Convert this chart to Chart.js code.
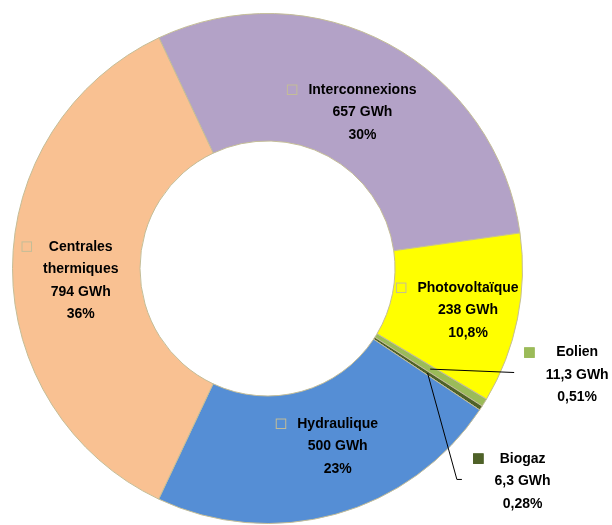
<!DOCTYPE html>
<html lang="fr">
<head>
<meta charset="utf-8">
<title>Production d'électricité par source</title>
<script src="https://cdn.jsdelivr.net/npm/chart.js@4.4.1/dist/chart.umd.min.js"></script>
<style>
  html, body { margin: 0; padding: 0; background: #ffffff; }
  #wrap { width: 612px; height: 525px; }
</style>
</head>
<body>
<div id="wrap"><canvas id="c" width="612" height="525"></canvas></div>
<script>
// Energy mix: one slice per source, clockwise from the top-left
const categories = ['Interconnexions', 'Photovoltaïque', 'Eolien', 'Biogaz', 'Hydraulique', 'Centrales thermiques'];
const labelLines = [['Interconnexions'], ['Photovoltaïque'], ['Eolien'], ['Biogaz'], ['Hydraulique'], ['Centrales', 'thermiques']];
const valuesGWh = [657, 238, 11.3, 6.3, 500, 794];
const percentLabels = ['30%', '10,8%', '0,51%', '0,28%', '23%', '36%'];

const sliceColors = ['#B3A2C7', '#FFFF00', '#9BBB59', '#4F6228', '#558ED5', '#F9C192'];
const edgeColor = '#C4BD97';

// Label anchors, relative to the centre point of each slice
const labelNudge = [[4, 12], [13, 4], [147, 6], [95, 108], [19, -6.5], [4.5, 12]];
// Leader lines for the slices too thin to hold their label (points relative to slice centre)
const leaders = { 2: [[84, 3.4]], 3: [[29.3, 106.3], [34.3, 106.3]] };
// Keys whose swatch sits outside the ring
const outsideLabels = new Set([2, 3]);

const fmtGWh = v => String(v).replace('.', ',') + ' GWh';

const sliceLabels = {
  id: 'sliceLabels',
  afterDraw(chart) {
    const ctx = chart.ctx;
    const meta = chart.getDatasetMeta(0);
    const lineH = 22.5;
    const sq = 10.5;
    ctx.save();
    ctx.font = 'bold 14px "Liberation Sans", Arial, sans-serif';
    ctx.textAlign = 'center';
    ctx.textBaseline = 'middle';
    meta.data.forEach((arc, i) => {
      const c = arc.getCenterPoint();
      // leader line
      if (leaders[i]) {
        ctx.beginPath();
        ctx.strokeStyle = '#000000';
        ctx.lineWidth = 1;
        ctx.moveTo(c.x, c.y);
        leaders[i].forEach(p => ctx.lineTo(c.x + p[0], c.y + p[1]));
        ctx.stroke();
      }
      const lines = [...labelLines[i], fmtGWh(valuesGWh[i]), percentLabels[i]];
      const ax = c.x + labelNudge[i][0];
      const ay = c.y + labelNudge[i][1];
      const top = ay - (lines.length - 1) / 2 * lineH;
      let maxW = 0;
      lines.forEach(t => { maxW = Math.max(maxW, ctx.measureText(t).width); });
      // swatch key
      const sx = ax - maxW / 2 - 11 - sq;
      const sy = top - sq / 2;
      ctx.fillStyle = sliceColors[i];
      ctx.fillRect(sx, sy, sq, sq);
      ctx.strokeStyle = outsideLabels.has(i) ? sliceColors[i] : edgeColor;
      ctx.lineWidth = 1;
      ctx.strokeRect(sx + 0.5, sy + 0.5, sq - 1, sq - 1);
      // text
      ctx.fillStyle = '#000000';
      lines.forEach((t, k) => ctx.fillText(t, ax, top + k * lineH));
    });
    ctx.restore();
  }
};

new Chart(document.getElementById('c'), {
  type: 'doughnut',
  data: {
    labels: categories,
    datasets: [{
      data: valuesGWh,
      backgroundColor: sliceColors,
      borderColor: edgeColor,
      borderWidth: 1
    }]
  },
  options: {
    responsive: false,
    animation: false,
    devicePixelRatio: 1,
    rotation: -25.2,
    cutout: '50%',
    layout: { padding: { top: 13, bottom: 1, left: 12, right: 89 } },
    plugins: {
      legend: { display: false },
      tooltip: { enabled: false }
    }
  },
  plugins: [sliceLabels]
});
</script>
</body>
</html>
